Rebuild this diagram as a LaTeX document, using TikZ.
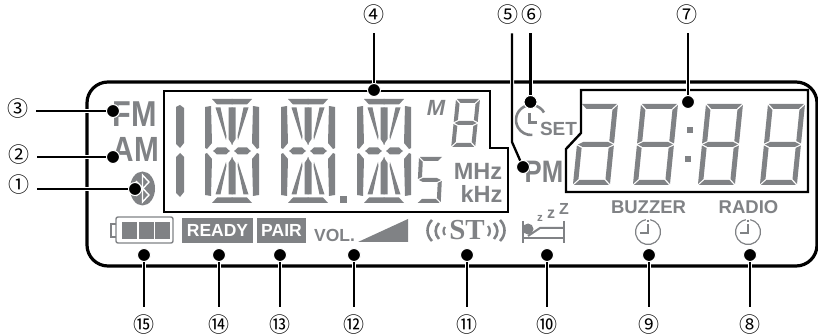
\documentclass[tikz,border=0pt]{standalone}
\usepackage{fontspec}
\setmainfont{Liberation Sans}
\newfontfamily\numfont{Noto Sans CJK JP}
\newfontfamily\slabfont{Liberation Serif}
\usetikzlibrary{arrows.meta,positioning,calc}
\definecolor{lcd}{HTML}{808285}

\newcommand{\fsz}[1]{\fontsize{#1}{#1}\selectfont}

% seven segment pieces, sizes come from \segw \segh \segt
\newcommand{\segA}{\fill[lcd] (1,0) -- (\segw-1,0) -- (\segw-1-\segt,\segt) -- (1+\segt,\segt) -- cycle;}
\newcommand{\segB}{\fill[lcd] (\segw,1) -- (\segw-\segt,1+\segt) -- (\segw-\segt,\segh/2-1-\segt/2) -- (\segw,\segh/2-1) -- cycle;}
\newcommand{\segC}{\fill[lcd] (\segw,\segh/2+1) -- (\segw-\segt,\segh/2+1+\segt/2) -- (\segw-\segt,\segh-1-\segt) -- (\segw,\segh-1) -- cycle;}
\newcommand{\segD}{\fill[lcd] (1,\segh) -- (\segw-1,\segh) -- (\segw-1-\segt,\segh-\segt) -- (1+\segt,\segh-\segt) -- cycle;}
\newcommand{\segE}{\fill[lcd] (0,\segh/2+1) -- (\segt,\segh/2+1+\segt/2) -- (\segt,\segh-1-\segt) -- (0,\segh-1) -- cycle;}
\newcommand{\segF}{\fill[lcd] (0,1) -- (\segt,1+\segt) -- (\segt,\segh/2-1-\segt/2) -- (0,\segh/2-1) -- cycle;}
\newcommand{\segG}{\fill[lcd] (1,\segh/2) -- (1+\segt,\segh/2-\segt/2) -- (\segw-1-\segt,\segh/2-\segt/2) -- (\segw-1,\segh/2) -- (\segw-1-\segt,\segh/2+\segt/2) -- (1+\segt,\segh/2+\segt/2) -- cycle;}
% x, y, width, height, thickness, slant, segments
\newcommand{\segdigit}[7]{%
  \begin{scope}[shift={(#1,#2)},xslant=#6]
    \def\segw{#3}\def\segh{#4}\def\segt{#5}
    \foreach \s in {#7} {\csname seg\s\endcsname}
  \end{scope}}

% one quarter of a fourteen segment digit
\newcommand{\alnumquarter}{%
  \fill[lcd] (7,0) -- (27.5,0) -- (27.5,5.5) -- (12,5.5) -- cycle;
  \fill[lcd] (0,8) -- (6,7) -- (7,44) -- (2,50) -- (0,49) -- cycle;
  \fill[lcd] (10.5,8.5) -- (15.5,8.5) -- (21.5,37) -- (21,41) -- cycle;
  \fill[lcd] (23.5,8.5) -- (27.5,8.5) -- (27.5,46) -- (23.5,40) -- cycle;
  \fill[lcd] (8,52.3) -- (12,48.5) -- (21,48.5) -- (25,52.3) -- cycle;}
\newcommand{\alnumdigit}[2]{%
  \begin{scope}[shift={(#1,#2)}]
    \alnumquarter
    \begin{scope}[shift={(54,0)},xscale=-1]\alnumquarter\end{scope}
    \begin{scope}[shift={(0,104)},yscale=-1]\alnumquarter\end{scope}
    \begin{scope}[shift={(54,104)},xscale=-1,yscale=-1]\alnumquarter\end{scope}
  \end{scope}}

\begin{document}
\begin{tikzpicture}[
    x=1pt, y=-1pt,
    panel/.style={draw=black, line width=3.2pt, rounded corners=21pt},
    zone/.style={draw=black, line width=2.4pt, line join=miter},
    callout/.style={circle, minimum size=20pt, inner sep=0pt, outer sep=4pt, font=\numfont\fsz{21}},
    dot/.style={circle, fill=black, draw=white, line width=1pt, minimum size=13pt, inner sep=0pt},
    leader/.style={draw=black, line width=2.3pt, preaction={draw=white, line width=4pt}},
    lcdtext/.style={text=lcd, inner sep=0pt, font=\bfseries\fsz{#1}},
    squeeze/.style={xscale=#1, transform shape},
    tagbox/.style={fill=lcd, text=white, inner sep=0pt, minimum height=25pt, font=\bfseries\fsz{17.5}},
    icon/.style={draw=lcd, line width=#1}
]
\useasboundingbox (0,0) rectangle (818,336);

% display outline and the two framed zones
\draw[panel] (87,82) rectangle (817,266);
\draw[zone] (164,91) -- (490,91) -- (490,148) -- (508,148) -- (508,212) -- (164,212) -- cycle;
\draw[zone] (581,90) -- (808,90) -- (808,192) -- (566,192) -- (566,149) -- (581,133) -- cycle;

% tuner digits
\fill[lcd] (176,107) -- (180,105) -- (184,108) -- (184,143) -- (180,148) -- (176,144) -- cycle;
\fill[lcd] (176,157) -- (180,153) -- (184,157) -- (184,192) -- (180,197) -- (176,193) -- cycle;
\alnumdigit{205}{99}
\alnumdigit{281}{99}
\alnumdigit{357}{99}
\fill[lcd] (340,196) rectangle (347,203);
\segdigit{456}{99}{24}{48}{4}{0.1}{A,B,C,D,E,F,G}
\segdigit{419}{157}{24}{46}{4}{0.05}{A,F,G,C,D}

% clock digits
\segdigit{581}{104}{37}{81}{5}{0.1}{A,B,C,D,E,G}
\segdigit{641}{104}{37}{81}{5}{0.1}{A,B,C,D,E,F,G}
\segdigit{706}{104}{37}{81}{5}{0.1}{A,B,C,D,E,F,G}
\segdigit{768}{104}{37}{81}{5}{0.1}{A,B,C,D,E,F,G}
\fill[lcd] (687,127) rectangle (693,133);
\fill[lcd] (685,156) rectangle (691,162);

% band and unit marks
\node[lcdtext=36, squeeze=.85] (fm) at (135,114) {FM};
\node[lcdtext=35, squeeze=.85] (am) at (136,149.5) {AM};
\node[lcdtext=31, squeeze=.83] (pm) at (544,172) {PM};
\node[lcdtext=22, font=\bfseries\itshape\fsz{22}] (mem) at (436,108) {M};
\node[lcdtext=23.5] (mhz) at (478,171.5) {MHz};
\node[lcdtext=23.5] (khz) at (481.5,194) {kHz};
\node[lcdtext=19] (set) at (558.5,128.5) {SET};

% bluetooth mark
\fill[lcd] (142.5,188.5) ellipse [x radius=12.5pt, y radius=17pt];
\draw[white, line width=1.4pt] (136,181) -- (149,195) -- (142.5,202) -- (142.5,175) -- (149,182) -- (136,196);

% sleep set mark
\draw[icon=2.6pt] (544,112.5) arc [start angle=30, end angle=275, radius=15pt];
\draw[icon=3pt] (529,113) -- (529,123) -- (537,123);

% battery
\draw[icon=1.4pt, rounded corners=2pt] (116,217) rectangle (173,243);
\draw[icon=1.4pt] (116,224) -- (111,224) -- (111,237) -- (116,237);
\fill[lcd] (122,222) rectangle (137,239);
\fill[lcd] (138.5,222) rectangle (153.5,239);
\fill[lcd] (155,222) rectangle (170,239);

% tags and volume
\node[tagbox, minimum width=71pt] (ready) at (217.5,230.5) {READY};
\node[tagbox, minimum width=49pt] (pair) at (281.5,230.5) {PAIR};
\node[lcdtext=17.5] (vol) at (334.5,235.5) {VOL.};
\fill[lcd] (358,242) -- (408,219) -- (408,242) -- cycle;

% stereo
\node[lcdtext=29, font=\slabfont\bfseries\fsz{29}] (st) at (467,230.5) {ST};
\draw[icon=2.6pt] (432,220) .. controls (426,226) and (426,235) .. (432,241);
\draw[icon=2.6pt] (439,223) .. controls (434.5,228) and (434.5,234) .. (439,239);
\draw[icon=2.2pt] (445,227) .. controls (443,229) and (443,233) .. (445,235);
\draw[icon=2.2pt] (488,226) .. controls (490.5,229) and (490.5,233) .. (488,236);
\draw[icon=2.6pt] (494,223) .. controls (498.5,228) and (498.5,234) .. (494,239);
\draw[icon=2.6pt] (500,220) .. controls (506,226) and (506,235) .. (500,241);

% snooze bed
\draw[icon=2pt] (523,221) -- (523,243);
\draw[icon=2pt] (564,221) -- (564,243);
\draw[icon=2pt] (523,238) -- (564,238);
\draw[icon=2pt] (528,236) -- (540,228) -- (564,228);
\fill[lcd] (528,229) circle [radius=5.5pt];
\node[lcdtext=11.5] (zs) at (540,218) {z};
\node[lcdtext=16] (zm) at (551,214) {z};
\node[lcdtext=16] (zb) at (564,209) {Z};

% alarm marks
\node[lcdtext=18.5] (buzzer) at (648.5,207) {BUZZER};
\node[lcdtext=18.5] (radio) at (748.5,207) {RADIO};
\draw[icon=1.2pt] (650.2,219.7) arc [start angle=80, end angle=-260, radius=12.5pt];
\draw[icon=1.2pt] (750.2,219.7) arc [start angle=80, end angle=-260, radius=12.5pt];
\draw[icon=1.6pt] (648,220) -- (648,222);
\draw[icon=1.6pt] (748,220) -- (748,222);
\draw[icon=1.6pt] (648,224) -- (648,233) -- (640,233);
\draw[icon=1.6pt] (748,224) -- (748,233) -- (740,233);

% callouts on the left
\node[callout] (n3) at (18,109) {③};
\node[callout] (n2) at (19,155) {②};
\node[callout] (n1) at (19,185) {①};
\node[dot] (d3) at (113,111) {};
\node[dot] (d2) at (113,157) {};
\node[dot] (d1) at (135,189) {};
\draw[leader] (d3 -| n3.east) -- (d3);
\draw[leader] (d2 -| n2.east) -- (d2);
\draw[leader] (d1 -| n1.east) -- (d1);

% callouts on top
\node[callout] (n4) at (374,15) {④};
\node[callout] (n5) at (508,15) {⑤};
\node[callout] (n6) at (532,15) {⑥};
\node[callout] (n7) at (687,15) {⑦};
\node[dot] (d4) at (374,90) {};
\node[dot] (d5) at (523,167) {};
\node[dot] (d6) at (530.5,102) {};
\node[dot] (d7) at (688,102) {};
\coordinate (k5) at (512,142);
\draw[leader] (n4.south -| d4) -- (d4);
\draw[leader] (k5 |- n5.south) -- (k5) -- (d5);
\draw[leader] (n6.south -| d6) -- (d6);
\draw[leader] (n7.south -| d7) -- (d7);

% callouts at the bottom
\node[callout] (n15) at (144,325) {⑮};
\node[callout] (n14) at (219,325) {⑭};
\node[callout] (n13) at (280,325) {⑬};
\node[callout] (n12) at (354,325) {⑫};
\node[callout] (n11) at (467,325) {⑪};
\node[callout] (n10) at (547,325) {⑩};
\node[callout] (n9) at (649,325) {⑨};
\node[callout] (n8) at (750,325) {⑧};
\node[dot] (d15) at (144,255) {};
\node[dot] (d14) at (219,255) {};
\node[dot] (d13) at (280,255) {};
\node[dot] (d12) at (354,255) {};
\node[dot] (d11) at (467,255) {};
\node[dot] (d10) at (547,255) {};
\node[dot] (d9) at (649,255) {};
\node[dot] (d8) at (750,255) {};
\draw[leader] (n15) -- (d15);
\draw[leader] (n14) -- (d14);
\draw[leader] (n13) -- (d13);
\draw[leader] (n12) -- (d12);
\draw[leader] (n11) -- (d11);
\draw[leader] (n10) -- (d10);
\draw[leader] (n9) -- (d9);
\draw[leader] (n8) -- (d8);
\end{tikzpicture}
\end{document}
